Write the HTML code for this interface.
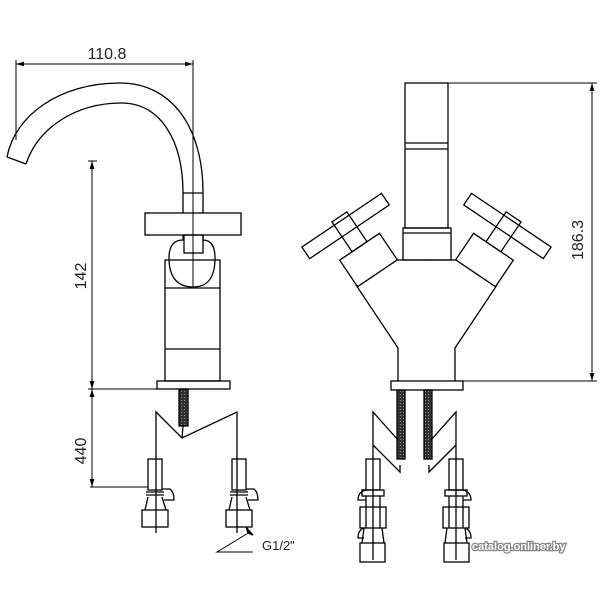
<!DOCTYPE html>
<html><head><meta charset="utf-8"><style>
html,body{margin:0;padding:0;background:#fff}
svg{display:block}
text{font-family:"Liberation Sans",sans-serif;fill:#222}
</style></head><body>
<svg width="600" height="600" viewBox="0 0 600 600" xmlns="http://www.w3.org/2000/svg">
<defs>
<pattern id="th" width="3" height="3" patternUnits="userSpaceOnUse"><rect width="3" height="3" fill="#333"/><rect x="1" y="1" width="1" height="1" fill="#888"/></pattern>
<marker id="ar" viewBox="0 0 10 10" refX="10" refY="5" markerWidth="8" markerHeight="8" orient="auto-start-reverse"><path d="M0,2 L10,5 L0,8 Z" fill="#000"/></marker>
</defs>
<g fill="none" stroke="#000" stroke-width="1.3">
<!-- LEFT VIEW -->
<line x1="16" y1="64" x2="193" y2="64" marker-start="url(#ar)" marker-end="url(#ar)" stroke-width="1"/>
<line x1="16" y1="60" x2="16" y2="140" stroke-width="1"/>
<line x1="193" y1="60" x2="193" y2="288" stroke-width="1"/>
<path d="M7,157 C15,115 60,83 120,83 C170,83 203,125 203,193"/>
<path d="M26,164 C38,128 75,103 122,103 C160,103 183,140 183,193"/>
<line x1="7" y1="157" x2="26" y2="164"/>
<line x1="183" y1="193" x2="203" y2="193"/>
<line x1="183" y1="193" x2="183" y2="213"/><line x1="203" y1="193" x2="203" y2="213"/>
<rect x="145" y="213" width="96" height="22"/>
<path d="M183,235 V240 C172,240 169,248 169,258 C169,280 180,287 193,287 C206,287 215,280 215,258 C215,248 212,240 203,240 V235"/>
<rect x="184" y="235" width="19" height="18"/>
<rect x="165" y="260" width="55" height="121"/>
<line x1="165" y1="288" x2="220" y2="288"/>
<line x1="165" y1="349" x2="220" y2="349"/>
<rect x="157" y="381" width="73" height="8"/>
<!-- 142 / 440 dims -->
<line x1="88" y1="161" x2="97" y2="161" stroke-width="1"/>
<line x1="92" y1="161" x2="92" y2="389" marker-start="url(#ar)" marker-end="url(#ar)" stroke-width="1"/>
<line x1="88" y1="389" x2="157" y2="389" stroke-width="1"/>
<line x1="92" y1="389" x2="92" y2="487" marker-start="url(#ar)" marker-end="url(#ar)" stroke-width="1"/>
<line x1="90" y1="487" x2="148" y2="487" stroke-width="1"/>
<!-- left bottom hoses -->
<rect x="179" y="389" width="9" height="37" fill="url(#th)"/>
<path d="M156,533 V412 L182,438 L237,412 V533"/>
<line x1="183" y1="426" x2="182" y2="438"/>
<g id="fitL">
<rect x="148" y="459" width="14" height="31"/>
<line x1="146" y1="492" x2="164" y2="492"/><line x1="146" y1="495" x2="164" y2="495"/>
<path d="M162,489 H170 Q174,492 174,500 H164"/>
<path d="M148,497 L145,510 M162,497 L166,510"/>
<rect x="142" y="510" width="26" height="17"/>
</g>
<use href="#fitL" transform="translate(84,0)"/>
<path d="M250,532 L217,552 H253" stroke-width="1"/>
<path d="M246,527 L253,535 L248,533 Z" fill="#000"/>
<!-- RIGHT VIEW -->
<rect x="405" y="83" width="43" height="145"/>
<line x1="405" y1="143" x2="448" y2="143"/><line x1="405" y1="149" x2="448" y2="149"/>
<rect x="403" y="228" width="48" height="32"/>
<line x1="403" y1="233" x2="451" y2="233"/>
<g id="halfR">
<g transform="translate(368.5,260) rotate(-34)">
<rect x="-24" y="-16" width="48" height="32"/>
<rect x="-9" y="-52" width="18" height="36"/>
<rect x="-48" y="-48" width="96" height="14"/>
</g>
<path d="M356,285 L398,348 V381"/>
<line x1="397" y1="260" x2="427" y2="260"/>
</g>
<use href="#halfR" transform="translate(853,0) scale(-1,1)"/>
<rect x="391" y="381" width="72" height="9"/>
<line x1="448" y1="83" x2="597" y2="83" stroke-width="1"/>
<line x1="463" y1="381" x2="597" y2="381" stroke-width="1"/>
<line x1="592" y1="83" x2="592" y2="381" marker-start="url(#ar)" marker-end="url(#ar)" stroke-width="1"/>
<!-- right bottom -->
<g id="hoseR">
<rect x="397" y="390" width="8" height="69" fill="url(#th)"/>
<path d="M373,560 V412 L398,440"/>
<path d="M373,445 L400,472 V465"/>
<rect x="366" y="459" width="14" height="31"/>
<rect x="362" y="490" width="22" height="6"/>
<path d="M362,490 H366 Q358,492 358,500 H366"/>
<rect x="360" y="507" width="26" height="21"/>
<line x1="366" y1="496" x2="366" y2="528"/><line x1="380" y1="496" x2="380" y2="528"/>
<path d="M364,528 Q358,530 358,538 H364"/>
<path d="M364,528 L362,543 M382,528 L384,543"/>
<rect x="360" y="543" width="25" height="19"/>
</g>
<use href="#hoseR" transform="translate(829,0) scale(-1,1)"/>
</g>
<text x="107" y="59" font-size="16" text-anchor="middle">110.8</text>
<text transform="translate(86,276) rotate(-90)" font-size="16" text-anchor="middle">142</text>
<text transform="translate(86,451) rotate(-90)" font-size="16" text-anchor="middle">440</text>
<text transform="translate(583,240) rotate(-90)" font-size="16" text-anchor="middle">186.3</text>
<text x="262" y="550" font-size="13">G1/2"</text>
<text x="472" y="550" font-size="11" font-weight="bold" style="fill:#fff;stroke:#888;stroke-width:2.5;paint-order:stroke">catalog.onliner.by</text>
</svg>
</body></html>
